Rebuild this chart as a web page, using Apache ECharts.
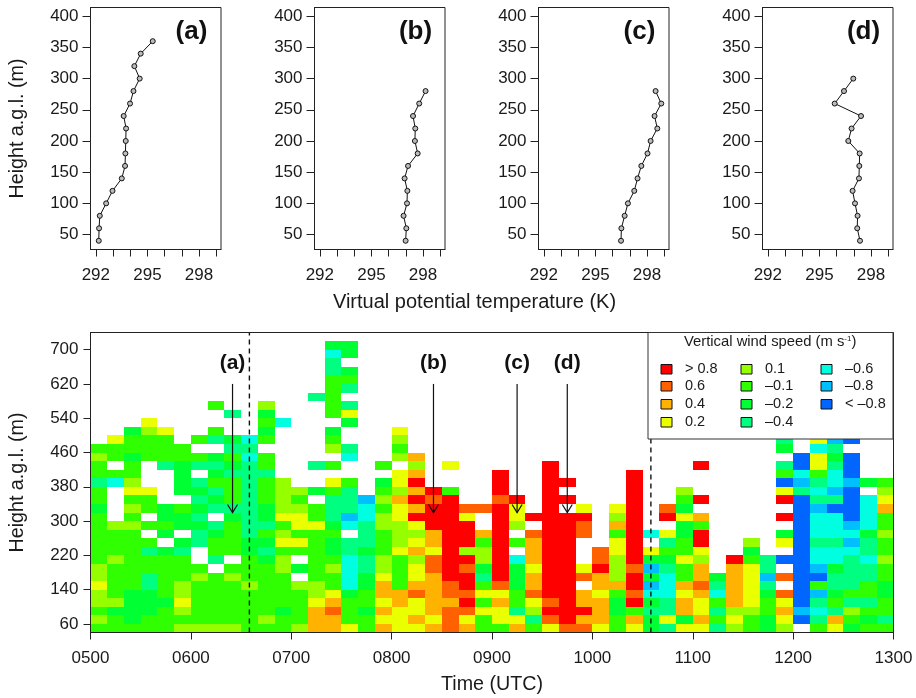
<!DOCTYPE html>
<html>
<head>
<meta charset="utf-8">
<title>Profiles and vertical wind speed</title>
<script src="https://cdn.jsdelivr.net/npm/echarts@6/dist/echarts.min.js"></script>
<style>
  html, body { margin: 0; padding: 0; background: #fff; }
  #chart { width: 916px; height: 698px; }
</style>
</head>
<body>
<div id="chart"></div>
<script>
// profile heights (m) and virtual potential temperature (K)
const profileHeights = [40, 60, 80, 100, 120, 140, 160, 180, 200, 220, 240, 260, 280, 300, 320, 340, 360];
const tempA = [292.17, 292.19, 292.23, 292.6, 292.97, 293.51, 293.7, 293.72, 293.74, 293.76, 293.62, 293.99, 294.19, 294.55, 294.24, 294.61, 295.31];
const tempB = [296.99, 297.03, 296.87, 297.07, 297.09, 296.93, 297.13, 297.69, 297.53, 297.55, 297.42, 297.78, 298.15];
const tempC = [296.49, 296.51, 296.7, 296.89, 297.26, 297.45, 297.67, 298.03, 298.21, 298.6, 298.44, 298.83, 298.5];
const tempD = [297.36, 297.2, 297.22, 297.07, 296.93, 297.3, 297.32, 297.34, 296.68, 296.87, 297.42, 295.89, 296.43, 296.97];
const profiles = [tempA, tempB, tempC, tempD];
const panelNames = ['(a)', '(b)', '(c)', '(d)'];
const profileTicksY = [50, 100, 150, 200, 250, 300, 350, 400];
const profileTicksX = [292, 293, 294, 295, 296, 297, 298, 299];
const profileLabelsX = [292, 295, 298];

// wind speed classes
const levelCodes = ['R', 'O', 'A', 'Y', 'L', 'G', 'M', 'S', 'C', 'B', 'D'];
const levelLabels = ['> 0.8', '0.6', '0.4', '0.2', '0.1', '–0.1', '–0.2', '–0.4', '–0.6', '–0.8', '< –0.8'];
const levelColors = ['#ff0000', '#ff6000', '#ffb300', '#eaff00', '#95ff00', '#2fff00', '#00ff33', '#00ff80', '#00ffe0', '#00bfff', '#0066ff'];

// time-height cells: one string per 20 m gate (lowest first), one letter per 10 min, '.' = no data
const windRows = [
  'GGGGGLLLLGGGLAAY' + 'GAYYAOAGGAGYOOYG' + 'YMSYYSLGML.GYMGG',
  'LGMGGGGGGGLGGAAG' + 'GYYAYOYGYYSORAAG' + 'AMYMAGYGMYDSAGMS',
  'GMMMGLGGGGGMGAOG' + 'MAYYAOOYYSLRRRAM' + 'GSSAYSLLGABCSLGG',
  'LLMMMYGGGGGGGYAG' + 'GYAYAARGAGYORAAM' + 'RMSAYGAYGYDSGSSG',
  'LGMMGLGGGGGGGLYM' + 'GAAOAOOYYGORRAYG' + 'OCCYACAYMODBMGGM',
  'YGGSGLGGGLGGLLGC' + 'MAGAAORGOMARR.AA' + 'RBCAOSAYS.DGSSGM',
  'LGGSGGLGLGGG.GGC' + 'MYGYARRSRMARROAL' + 'RMCGAMAYBODDSSSG',
  'LGGGGGG.GGGLMGLC' + 'SLGYOROMRMYRRYRL' + 'OBSGA.AYS.DBMSSG',
  'GLGGGG.S.GML.GGC' + 'SLGLORRLRCARR.OL' + 'RMMYL.RGSDDCCSCL',
  'GGGSMS.GGMSGGGMS' + 'MGYAYRLLR.ARR.OY' + 'RYGGY..M..DCCCSG',
  'GGGG.MSGGMMYYGMS' + 'SGLYARRGRGARR..Y' + 'R.SGR..L.YDSSBSG',
  'GGG.M.SMGSGLGGG.' + 'SGLLARRAR.ORRO.G' + 'RCYMR....MDCCCML',
  'GLLGGMMSGSSGYYMC' + 'SLLYRRR.RL.RRO.A' + 'R..MG.....DCCBCG',
  'G.G.MMS.MSMYYGSB' + 'CLYRRRY.RYRRRR.L' + 'R.RYA....RDCCDCG',
  'M.LGMGMSSSMLLGSS' + 'CGYARROORY.R.Y.Y' + 'R.OM......DBDDCA',
  'G.GG..SMGSGLG.SS' + 'BLAROR..OR.RR...' + 'R..GR....RDSSDCY',
  'G.YY.MMSGSGLLMGS' + '.GLARG..R..R....' + 'R..L.....YSCBD.L',
  'SCL..MSGGSGL..YG' + '.MYR....R..RR...' + 'R........DBSCBMG',
  'GGG..M.MSSS.....' + '..YA....R..R....' + 'R........GCGCD..',
  'G.G.SMSSMSG..SG.' + '.G.L.Y.....R....' + '....R....SDYSD..',
  'LGMGGGGMGCG....C' + '..LA............' + '..........DYMD..',
  'GGGGGG..SS....LS' + '..G.............' + '.........M.CS...',
  '.YGGG.GSMCG...G.' + '..L.............' + '.........S.YBD..',
  '..MLY..G..M...M.' + '..Y.............',
  '...Y......GC...M',
  '........S.M...GY',
  '.......G..L...GS',
  '.............SG.',
  '..............GS',
  '..............GG',
  '..............SM',
  '..............S.',
  '..............CM',
  '..............MM'
];
const gateBase = 40;    // m, bottom of lowest gate
const gateDepth = 20;   // m
const startHour = 5;
const stepHour = 1 / 6;

const windTicksY = [60, 140, 220, 300, 380, 460, 540, 620, 700];
const dashTimes = [6.583, 10.583];
const arrowTimes = [6.415, 8.417, 9.25, 9.75];
const arrowTop = 620;
const arrowTip = 320;

const fontName = '"Liberation Sans", Arial, sans-serif';
const inkColor = '#1a1a1a';

const panelLeft = [90.5, 314.5, 538.5, 762.5];
const panelWidth = 130.5;

const windCells = [];
windRows.forEach((row, r) => {
  for (let c = 0; c < row.length; c++) {
    const level = levelCodes.indexOf(row[c]);
    if (level >= 0) {
      windCells.push([startHour + c * stepHour, gateBase + r * gateDepth, level]);
    }
  }
});

const axisText = { fontFamily: fontName, fontSize: 17, color: inkColor };
const axisBits = {
  axisLine: { show: true, onZero: false, lineStyle: { color: '#222', width: 1 } },
  splitLine: { show: false }
};

const getOption = () => {
  const grids = [];
  const xAxes = [];
  const yAxes = [];
  const series = [];
  const graphics = [];

  profiles.forEach((temps, i) => {
    grids.push({
      show: true, left: panelLeft[i], width: panelWidth, top: 7.5, height: 242, outerBoundsMode: 'none',
      backgroundColor: 'transparent', borderColor: '#222', borderWidth: 1
    });
    xAxes.push(Object.assign({
      type: 'value', gridIndex: i, min: 291.69, max: 299.28, position: 'bottom',
      axisTick: { show: true, length: 7, customValues: profileTicksX, lineStyle: { color: '#222' } },
      axisLabel: Object.assign({ margin: 17, customValues: profileLabelsX }, axisText)
    }, axisBits));
    yAxes.push(Object.assign({
      type: 'value', gridIndex: i, min: 26, max: 414,
      axisTick: { show: true, length: 8, customValues: profileTicksY, lineStyle: { color: '#222' } },
      axisLabel: Object.assign({ margin: 12, customValues: profileTicksY, padding: [3, 0, 0, 0] }, axisText),
      name: i === 0 ? 'Height a.g.l. (m)' : '',
      nameLocation: 'middle', nameGap: 63, nameRotate: 90,
      nameTextStyle: { fontFamily: fontName, fontSize: 19.7, color: inkColor }
    }, axisBits));
    series.push({
      type: 'line', xAxisIndex: i, yAxisIndex: i,
      data: temps.map((t, k) => [t, profileHeights[k]]),
      showAllSymbol: true, symbol: 'circle', symbolSize: 5,
      lineStyle: { color: '#111', width: 1 },
      itemStyle: { color: '#bbb', borderColor: '#111', borderWidth: 1 }
    });
    graphics.push({
      type: 'text', z: 20, x: panelLeft[i] + 101, y: 32,
      style: { text: panelNames[i], font: 'bold 26px ' + fontName, fill: '#111', textAlign: 'center', textVerticalAlign: 'middle' }
    });
  });

  // time-height panel
  grids.push({
    show: true, left: 90.5, width: 803, top: 332.5, height: 300, z: 5, outerBoundsMode: 'none',
    backgroundColor: 'transparent', borderColor: '#222', borderWidth: 1
  });
  xAxes.push(Object.assign({
    type: 'value', gridIndex: 4, min: 5, max: 13, interval: 1, z: 6,
    axisTick: { show: true, length: 7, lineStyle: { color: '#222' } },
    axisLabel: Object.assign({}, axisText, {
      margin: 17, showMinLabel: true, showMaxLabel: true,
      formatter: v => String(v * 100).padStart(4, '0')
    }),
    name: 'Time (UTC)', nameLocation: 'middle', nameGap: 42,
    nameTextStyle: { fontFamily: fontName, fontSize: 19.7, color: inkColor }
  }, axisBits));
  yAxes.push(Object.assign({
    type: 'value', gridIndex: 4, min: 40, max: 740, z: 6,
    axisTick: { show: true, length: 7, customValues: windTicksY, lineStyle: { color: '#222' } },
    axisLabel: Object.assign({ margin: 12, customValues: windTicksY, padding: [2, 0, 0, 0] }, axisText),
    name: 'Height a.g.l. (m)', nameLocation: 'middle', nameGap: 63, nameRotate: 90,
    nameTextStyle: { fontFamily: fontName, fontSize: 19.7, color: inkColor }
  }, axisBits));

  series.push({
    type: 'custom', xAxisIndex: 4, yAxisIndex: 4, z: 2, clip: true,
    data: windCells,
    encode: { x: 0, y: 1 },
    renderItem: (params, api) => {
      const a = api.coord([api.value(0), api.value(1) + gateDepth]);
      const b = api.coord([api.value(0) + stepHour, api.value(1)]);
      const x0 = Math.round(a[0]), y0 = Math.round(a[1]);
      return {
        type: 'rect',
        shape: { x: x0, y: y0, width: Math.round(b[0]) - x0, height: Math.round(b[1]) - y0 },
        style: { fill: levelColors[api.value(2)] }
      };
    }
  });

  dashTimes.forEach(t => {
    series.push({
      type: 'line', xAxisIndex: 4, yAxisIndex: 4, z: 3, symbol: 'none', silent: true,
      data: [[t, 40], [t, 740]],
      lineStyle: { color: '#111', width: 1.4, type: [5, 4] }
    });
  });

  series.push({
    type: 'custom', xAxisIndex: 4, yAxisIndex: 4, z: 4, silent: true,
    data: arrowTimes.map((t, i) => [t, arrowTop, arrowTip, i]),
    encode: { x: 0, y: 1 },
    renderItem: (params, api) => {
      const top = api.coord([api.value(0), api.value(1)]);
      const tip = api.coord([api.value(0), api.value(2)]);
      const lineStyle = { stroke: '#111', lineWidth: 1.2, fill: null };
      return {
        type: 'group',
        children: [
          { type: 'line', shape: { x1: top[0], y1: top[1], x2: tip[0], y2: tip[1] }, style: lineStyle },
          { type: 'polyline', shape: { points: [[tip[0] - 5, tip[1] - 8], [tip[0], tip[1]], [tip[0] + 5, tip[1] - 8]] }, style: lineStyle },
          { type: 'text', x: top[0], y: top[1] - 21,
            style: { text: panelNames[api.value(3)], font: 'bold 21px ' + fontName, fill: '#111', textAlign: 'center', textVerticalAlign: 'middle' } }
        ]
      };
    }
  });

  // shared axis title for the top row
  graphics.push({
    type: 'text', z: 20, x: 474.5, y: 302,
    style: { text: 'Virtual potential temperature (K)', font: '20px ' + fontName, fill: inkColor, textAlign: 'center', textVerticalAlign: 'middle' }
  });

  // wind speed key, laid out in three columns
  graphics.push({
    type: 'rect', z: 20, shape: { x: 648, y: 332.5, width: 245, height: 106.5 },
    style: { fill: '#fff', stroke: '#333', lineWidth: 1 }
  });
  graphics.push({
    type: 'text', z: 21, x: 684, y: 342,
    style: {
      text: '{t|Vertical wind speed (m s}{s|-1}{t|)}',
      rich: {
        t: { font: '14.8px ' + fontName, fill: inkColor },
        s: { font: '8px ' + fontName, fill: inkColor, verticalAlign: 'top', padding: [0, 0, 6, 0] }
      },
      textVerticalAlign: 'middle'
    }
  });
  const keyColumns = [[0, 1, 2, 3], [4, 5, 6, 7], [8, 9, 10]];
  keyColumns.forEach((col, c) => {
    col.forEach((level, r) => {
      const rowY = 368.5 + r * 17.7;
      graphics.push({
        type: 'rect', z: 21,
        shape: { x: 661 + c * 80, y: Math.round(rowY - 5) + 0.5, width: 11, height: 9.5 },
        style: { fill: levelColors[level], stroke: '#111', lineWidth: 1 }
      });
      graphics.push({
        type: 'text', z: 21, x: 685 + c * 80, y: rowY,
        style: { text: levelLabels[level], font: '14.5px ' + fontName, fill: inkColor, textVerticalAlign: 'middle' }
      });
    });
  });

  return {
    animation: false,
    backgroundColor: '#fff',
    textStyle: { fontFamily: fontName },
    grid: grids,
    xAxis: xAxes,
    yAxis: yAxes,
    series: series,
    graphic: graphics
  };
};

const chart = echarts.init(document.getElementById('chart'), null, { renderer: 'canvas' });
chart.setOption(getOption());
</script>
</body>
</html>
